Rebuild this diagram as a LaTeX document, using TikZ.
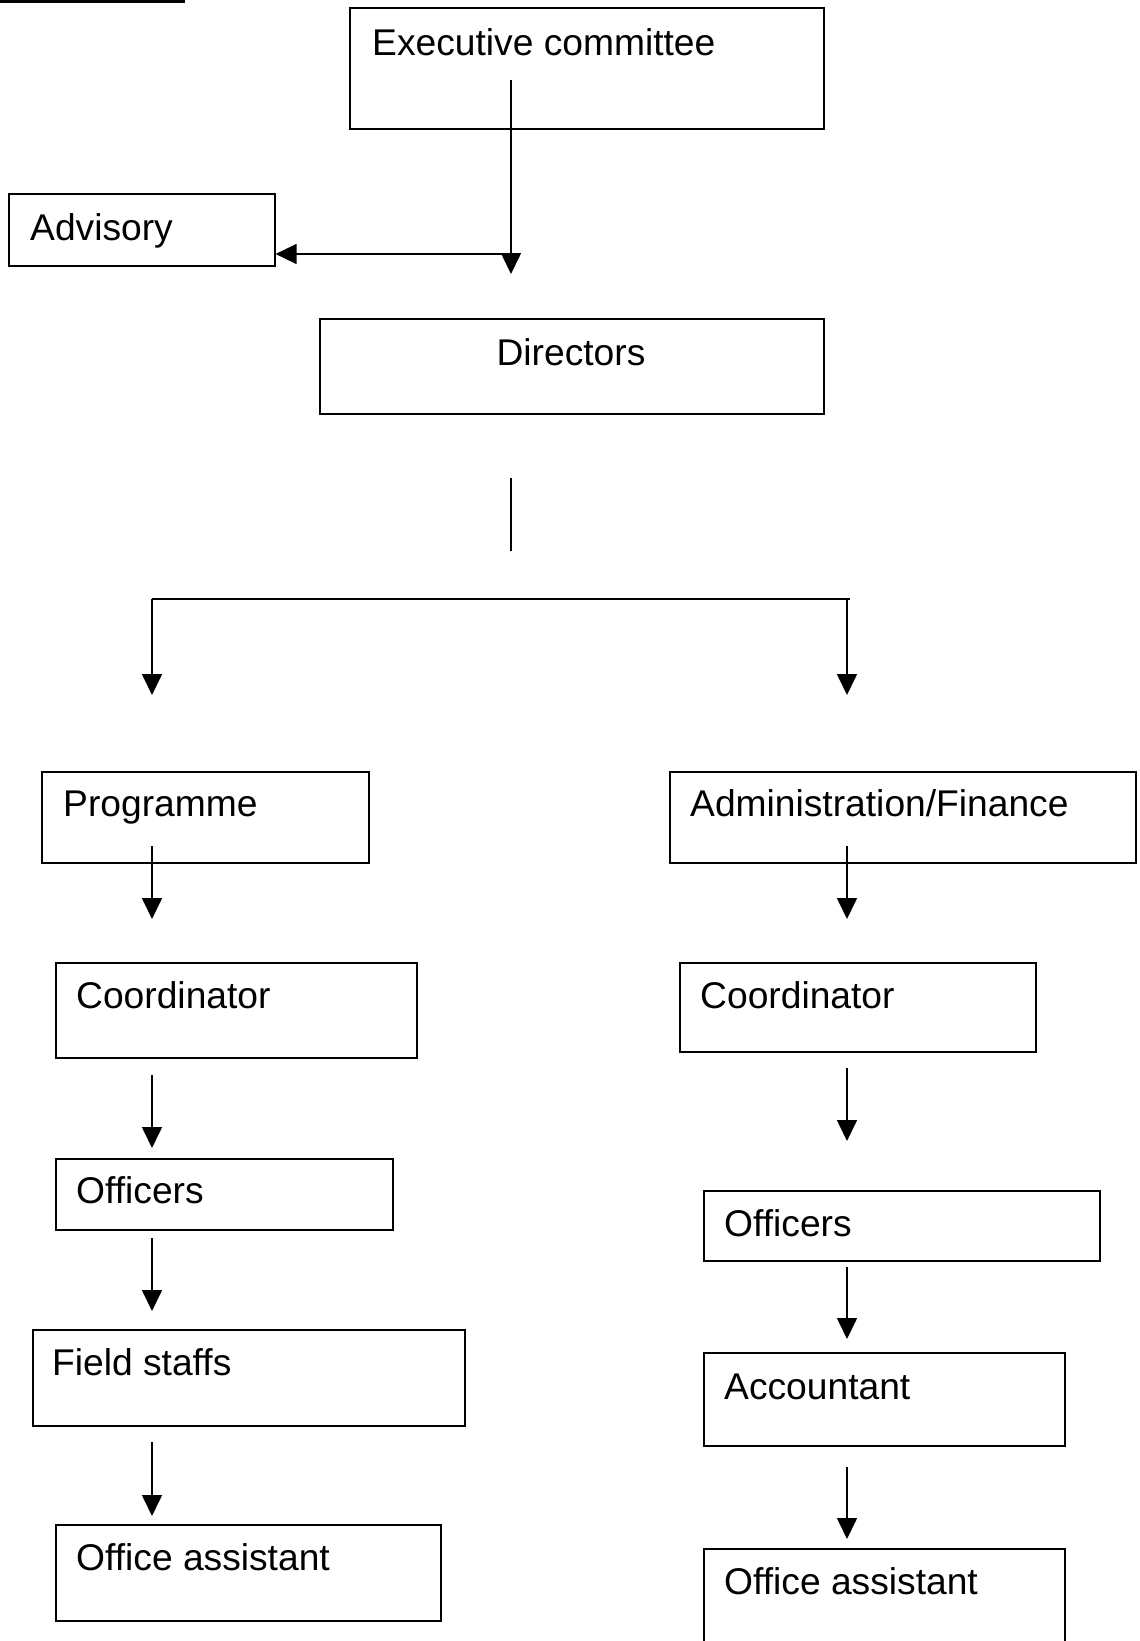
\documentclass[tikz,border=0pt]{standalone}
\usepackage{fontspec}
\setmainfont{Liberation Sans}
\usetikzlibrary{arrows.meta}
\begin{document}
\begin{tikzpicture}[x=1pt,y=-1pt,
  box/.style={draw,line width=1.6pt,inner sep=0pt,anchor=north west},
  lbl/.style={anchor=base west,inner sep=0pt,font=\fontsize{37.2}{44}\selectfont},
  conn/.style={line width=1.6pt},
  arr/.style={line width=1.6pt,-{Triangle[length=21pt,width=20pt]}}]
\useasboundingbox (0,0) rectangle (1140,1641);
\clip (0,0) rectangle (1140,1641);
\fill[white] (0,0) rectangle (1140,1641);
% top-left rule
\coordinate (r1) at (0,1.6);
\coordinate (r2) at (185,1.6);
\draw[line width=3.2pt] (r1) -- (r2);
% boxes
\node[box,minimum width=474pt,minimum height=121pt] (exec) at (349,7) {};
\node[lbl] (texec) at (372,55) {Executive committee};
\node[box,minimum width=266pt,minimum height=72pt] (adv) at (8,193) {};
\node[lbl] (tadv) at (30,240) {Advisory};
\node[box,minimum width=504pt,minimum height=95pt] (dir) at (319,318) {};
\node[lbl,anchor=base] (tdir) at (571,365) {Directors};
\node[box,minimum width=327pt,minimum height=91pt] (prog) at (41,771) {};
\node[lbl] (tprog) at (63,816) {Programme};
\node[box,minimum width=466pt,minimum height=91pt] (adm) at (669,771) {};
\node[lbl] (tadm) at (690,816) {Administration/Finance};
\node[box,minimum width=361pt,minimum height=95pt] (coL) at (55,962) {};
\node[lbl] (tcoL) at (76,1008) {Coordinator};
\node[box,minimum width=356pt,minimum height=89pt] (coR) at (679,962) {};
\node[lbl] (tcoR) at (700,1008) {Coordinator};
\node[box,minimum width=337pt,minimum height=71pt] (ofL) at (55,1158) {};
\node[lbl] (tofL) at (76,1203) {Officers};
\node[box,minimum width=396pt,minimum height=70pt] (ofR) at (703,1190) {};
\node[lbl] (tofR) at (724,1236) {Officers};
\node[box,minimum width=432pt,minimum height=96pt] (fs) at (32,1329) {};
\node[lbl] (tfs) at (52,1375) {Field staffs};
\node[box,minimum width=361pt,minimum height=93pt] (acc) at (703,1352) {};
\node[lbl] (tacc) at (724,1399) {Accountant};
\node[box,minimum width=385pt,minimum height=96pt] (oaL) at (55,1524) {};
\node[lbl] (toaL) at (76,1570) {Office assistant};
\node[box,minimum width=361pt,minimum height=130pt] (oaR) at (703,1548) {};
\node[lbl] (toaR) at (724,1594) {Office assistant};
% connectors
\coordinate (e0) at (511,80);
\coordinate (e1) at (511,274);
\coordinate (e2) at (511,254);
\draw[arr] (e0) -- (e1);
\draw[arr] (e2) -- (adv.east |- e2);
\coordinate (d0) at (511,478);
\coordinate (d1) at (511,551);
\draw[conn] (d0) -- (d1);
\coordinate (hL) at (152,599);
\coordinate (hR) at (850,599);
\coordinate (hR2) at (847,599);
\draw[conn] (hL) -- (hR);
\coordinate (pL) at (152,695);
\coordinate (pR) at (847,695);
\draw[arr] (hL) -- (pL);
\draw[arr] (hR2) -- (pR);
% left column
\coordinate (l1a) at (152,846); \coordinate (l1b) at (152,919);
\draw[arr] (l1a) -- (l1b);
\coordinate (l2a) at (152,1075); \coordinate (l2b) at (152,1148);
\draw[arr] (l2a) -- (l2b);
\coordinate (l3a) at (152,1238); \coordinate (l3b) at (152,1311);
\draw[arr] (l3a) -- (l3b);
\coordinate (l4a) at (152,1442); \coordinate (l4b) at (152,1516);
\draw[arr] (l4a) -- (l4b);
% right column
\coordinate (r1a) at (847,846); \coordinate (r1b) at (847,919);
\draw[arr] (r1a) -- (r1b);
\coordinate (r2a) at (847,1068); \coordinate (r2b) at (847,1141);
\draw[arr] (r2a) -- (r2b);
\coordinate (r3a) at (847,1267); \coordinate (r3b) at (847,1339);
\draw[arr] (r3a) -- (r3b);
\coordinate (r4a) at (847,1467); \coordinate (r4b) at (847,1539);
\draw[arr] (r4a) -- (r4b);
\end{tikzpicture}
\end{document}
